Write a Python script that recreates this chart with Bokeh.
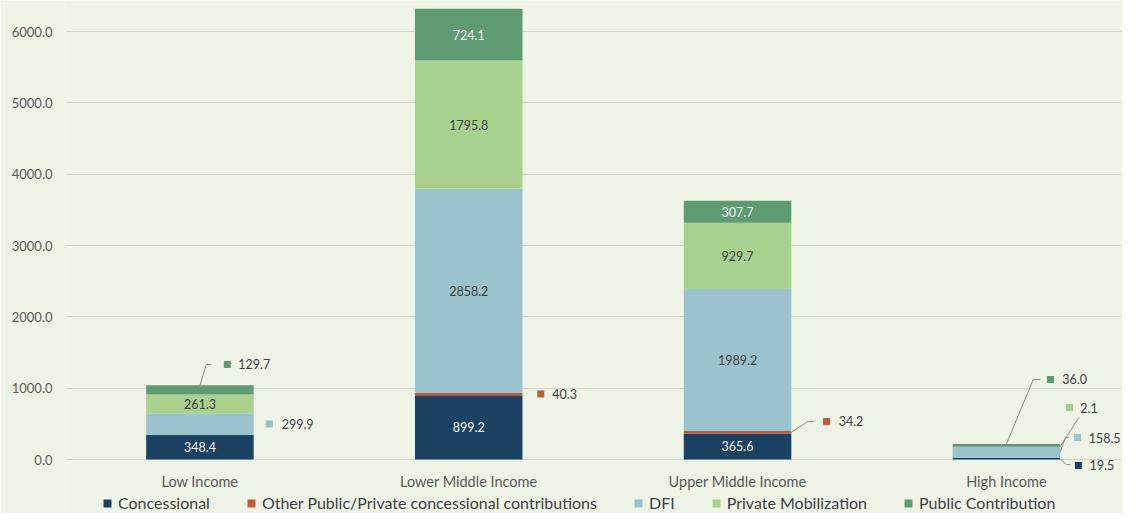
from bokeh.plotting import figure
from bokeh.models import (ColumnDataSource, Range1d, FixedTicker, Legend, LegendItem,
                          NumeralTickFormatter)
from bokeh.core.properties import value
from bokeh.embed import file_html
from bokeh.resources import INLINE

# ---------------- data ----------------
categories = ["Low Income", "Lower Middle Income", "Upper Middle Income", "High Income"]
concessional = [348.4, 899.2, 365.6, 19.5]
other_concessional = [0.0, 40.3, 34.2, 0.0]
dfi = [299.9, 2858.2, 1989.2, 158.5]
private_mobilization = [261.3, 1795.8, 929.7, 2.1]
public_contribution = [129.7, 724.1, 307.7, 36.0]
series_names = ["Concessional", "Other Public/Private concessional contributions", "DFI",
                "Private Mobilization", "Public Contribution"]
y_ticks = [0, 1000, 2000, 3000, 4000, 5000, 6000]

# ---------------- style ----------------
colors = ["#1B4263", "#C25B3C", "#9AC3CD", "#A9D18E", "#5E9B72"]
BG = "#EEF5E7"
GRID = "#D3D8CE"
DARK = "#404040"
WHITE = "#F4F7F8"
AXIS_TXT = "#595959"
FONT = "Lato"
BAR_W = 0.40
CAT_LABEL_Y = -310      # vertical position of the category names (data units)

series = [concessional, other_concessional, dfi, private_mobilization, public_contribution]
keys = ["s%d" % i for i in range(len(series))]
xs = list(range(len(categories)))

data = dict(x=xs)
for k, s in zip(keys, series):
    data[k] = s
src = ColumnDataSource(data)

# cumulative bottoms / tops
bottoms, tops = [], []
run = [0.0] * len(categories)
for s in series:
    bottoms.append(list(run))
    run = [a + b for a, b in zip(run, s)]
    tops.append(list(run))

p = figure(width=1122, height=513,
           x_range=Range1d(-0.5, 3.432), y_range=Range1d(-757, 6435),
           output_backend="svg", toolbar_location=None,
           background_fill_color=BG, border_fill_color=BG, outline_line_color=None,
           min_border_top=0, min_border_left=65, min_border_right=0, min_border_bottom=0)

renderers = p.vbar_stack(keys, x="x", width=BAR_W, source=src,
                         fill_color=colors, line_color=None)

# inside labels: (series, category) -> text color
inside = {(0, 0): WHITE, (3, 0): DARK,
          (0, 1): WHITE, (2, 1): DARK, (3, 1): DARK, (4, 1): WHITE,
          (0, 2): WHITE, (2, 2): DARK, (3, 2): DARK, (4, 2): WHITE}
ix, iy, it, ic = [], [], [], []
for (si, ci), col in inside.items():
    ix.append(xs[ci])
    iy.append((bottoms[si][ci] + tops[si][ci]) / 2)
    it.append("%.1f" % series[si][ci])
    ic.append(col)
p.text(x=ix, y=iy, text=it, text_color=ic, text_align="center", text_baseline="middle",
       text_font=value(FONT), text_font_size="12.5px")

# callouts: series, category, leader anchor, leader path, marker (dx, y), text dx
callouts = [
    (4, 0, "top", [(0.024, 1332), (0.043, 1332)], (0.102, 1332), 0.143),
    (2, 0, None, [], (0.258, None), 0.304),
    (1, 1, None, [], (0.268, None), 0.311),
    (1, 2, "right", [(0.262, 533), (0.285, 533)], (0.331, 533), 0.376),
    (4, 3, "top", [(0.10, 1122), (0.127, 1122)], (0.164, 1122), 0.208),
    (3, 3, "right", [(0.27, 589)], (0.235, 729), 0.275),
    (2, 3, "right", [(0.22, 308), (0.231, 308)], (0.265, 308), 0.306),
    (0, 3, "right", [(0.223, -70), (0.238, -70)], (0.268, -84), 0.309),
]
lx, ly = [], []
mx, my, mc = [], [], []
tx, ty, tt = [], [], []
for si, ci, anchor, path, (mdx, mdy), tdx in callouts:
    mid = (bottoms[si][ci] + tops[si][ci]) / 2
    yy = mid if mdy is None else mdy
    if anchor is not None:
        if anchor == "top":
            start = (xs[ci], tops[si][ci])
        else:
            start = (xs[ci] + BAR_W / 2, mid)
        pts = [start] + [(xs[ci] + dx, y) for dx, y in path]
        lx.append([q[0] for q in pts])
        ly.append([q[1] for q in pts])
    mx.append(xs[ci] + mdx)
    my.append(yy)
    mc.append(colors[si])
    tx.append(xs[ci] + tdx)
    ty.append(yy)
    tt.append("%.1f" % series[si][ci])

p.multi_line(xs=lx, ys=ly, line_color="#8C8C8C", line_width=1)
p.scatter(x=mx, y=my, marker="square", size=7, fill_color=mc, line_color=None)
p.text(x=tx, y=ty, text=tt, text_color=DARK, text_align="left", text_baseline="middle",
       text_font=value(FONT), text_font_size="12.5px")

# category names (drawn as text under the zero line)
p.text(x=xs, y=[CAT_LABEL_Y] * len(xs), text=categories, text_color=AXIS_TXT,
       text_align="center", text_baseline="middle",
       text_font=value(FONT), text_font_size="14.5px")

# axes
p.xgrid.grid_line_color = None
p.ygrid.grid_line_color = GRID
p.ygrid.grid_line_width = 1
p.ygrid.ticker = FixedTicker(ticks=y_ticks)

p.yaxis.ticker = FixedTicker(ticks=y_ticks)
p.yaxis.formatter = NumeralTickFormatter(format="0.0")
p.yaxis.axis_line_color = None
p.yaxis.major_tick_line_color = None
p.yaxis.minor_tick_line_color = None
p.yaxis.major_tick_out = 0
p.yaxis.major_label_standoff = 13
p.yaxis.major_label_text_font = FONT
p.yaxis.major_label_text_font_size = "13px"
p.yaxis.major_label_text_color = AXIS_TXT

p.xaxis.visible = False

legend = Legend(items=[LegendItem(label=n, renderers=[r]) for n, r in zip(series_names, renderers)],
                orientation="horizontal", location=(37, 1), spacing=36,
                glyph_width=10, glyph_height=10, label_standoff=6, padding=2, margin=0,
                label_height=16, label_text_font=FONT, label_text_font_size="16px",
                label_text_color=DARK, background_fill_alpha=0, border_line_color=None)
p.add_layout(legend, "center")

open("out.html", "w").write(file_html(p, INLINE))
